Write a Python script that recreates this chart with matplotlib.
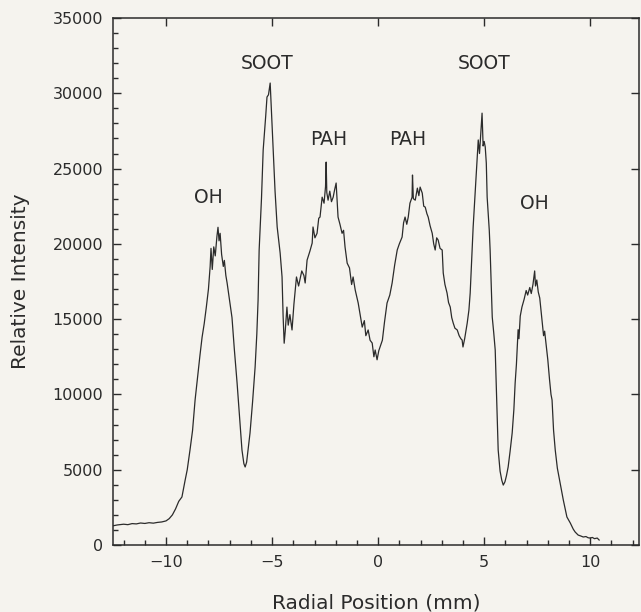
import matplotlib
matplotlib.use("Agg")
from matplotlib import pyplot as plt
from matplotlib import ticker

# radial profile (mm, counts)
RADIUS = [
    -12.55, -12.3, -12.0, -11.8, -11.6, -11.4, -11.2, -11.0, -10.8, -10.6,
    -10.4, -10.2, -10.0, -9.85, -9.7, -9.55, -9.4, -9.25, -9.1, -9.0,
    -8.87, -8.75, -8.63, -8.5, -8.4, -8.3, -8.2, -8.1, -8.0, -7.92,
    -7.88, -7.82, -7.75, -7.68, -7.6, -7.55, -7.5, -7.45, -7.38, -7.3,
    -7.25, -7.18, -7.12, -7.0, -6.89, -6.78, -6.65, -6.55, -6.42, -6.33,
    -6.27, -6.2, -6.1, -6.04, -5.92, -5.8, -5.72, -5.66, -5.61, -5.5,
    -5.42, -5.3, -5.24, -5.17, -5.09, -5.02, -4.95, -4.86, -4.76, -4.62,
    -4.53, -4.48, -4.43, -4.38, -4.3, -4.24, -4.16, -4.06, -3.97, -3.85,
    -3.75, -3.6, -3.5, -3.44, -3.35, -3.22, -3.11, -3.07, -2.98, -2.88,
    -2.8, -2.74, -2.64, -2.55, -2.48, -2.45, -2.42, -2.36, -2.28, -2.2,
    -2.12, -2.05, -1.98, -1.93, -1.89, -1.8, -1.7, -1.63, -1.56, -1.46,
    -1.35, -1.25, -1.18, -1.08, -0.94, -0.85, -0.75, -0.65, -0.58, -0.47,
    -0.38, -0.28, -0.2, -0.14, -0.05, 0.03, 0.09, 0.2, 0.3, 0.42,
    0.55, 0.66, 0.78, 0.9, 1.0, 1.13, 1.2, 1.27, 1.35, 1.42,
    1.5, 1.6, 1.62, 1.66, 1.75, 1.85, 1.92, 1.98, 2.08, 2.15,
    2.22, 2.3, 2.36, 2.45, 2.55, 2.62, 2.69, 2.76, 2.83, 2.92,
    3.02, 3.07, 3.15, 3.25, 3.32, 3.4, 3.47, 3.54, 3.62, 3.73,
    3.82, 3.9, 3.96, 4.0, 4.08, 4.2, 4.28, 4.34, 4.41, 4.48,
    4.58, 4.67, 4.72, 4.78, 4.84, 4.9, 4.95, 5.0, 5.05, 5.1,
    5.14, 5.24, 5.28, 5.33, 5.38, 5.45, 5.52, 5.57, 5.61, 5.66,
    5.75, 5.83, 5.9, 5.98, 6.05, 6.13, 6.22, 6.32, 6.4, 6.46,
    6.52, 6.56, 6.6, 6.64, 6.7, 6.78, 6.88, 6.98, 7.05, 7.15,
    7.22, 7.3, 7.38, 7.42, 7.48, 7.55, 7.62, 7.68, 7.75, 7.8,
    7.85, 7.92, 8.0, 8.08, 8.15, 8.2, 8.27, 8.35, 8.45, 8.58,
    8.73, 8.9, 9.06, 9.2, 9.29, 9.43, 9.55, 9.67, 9.8, 9.9,
    10.0, 10.1, 10.2, 10.33, 10.42,
]
INTENSITY = [
    1260, 1330, 1380, 1350, 1420, 1400, 1460, 1430, 1480, 1450,
    1500, 1530, 1600, 1750, 2000, 2400, 2900, 3190, 4300, 5000,
    6310, 7600, 9630, 11300, 12600, 13800, 14700, 15800, 17000, 18500,
    19700, 18300, 19800, 19200, 20500, 21100, 20200, 20700, 19300, 18500,
    18900, 17900, 17400, 16200, 15100, 13000, 10760, 8800, 6310, 5400,
    5180, 5500, 6700, 7440, 9500, 11820, 14000, 16270, 19590, 23000,
    26230, 28500, 29750, 29900, 30680, 28500, 26230, 23500, 21120, 19390,
    17800, 15200, 13400, 14200, 15800, 14600, 15300, 14280, 16000, 17800,
    17200, 18200, 17900, 17400, 18920, 19500, 20050, 21120, 20400, 20700,
    21700, 21780, 23100, 22700, 23800, 25430, 23400, 22900, 23500, 22800,
    23100, 23600, 24040, 22800, 21780, 21300, 20700, 20900, 19790, 18720,
    18400, 17300, 17800, 16930, 16070, 15300, 14470, 14900, 13900, 14280,
    13600, 13410, 12500, 12950, 12300, 12900, 13150, 13600, 14800, 16070,
    16600, 17400, 18600, 19590, 20000, 20450, 21400, 21780, 21300, 21780,
    22700, 23100, 24570, 23000, 22900, 23700, 23200, 23770, 23370, 22500,
    22440, 22000, 21780, 21200, 20700, 20000, 19590, 20400, 20250, 19700,
    19590, 18060, 17300, 16730, 16100, 15800, 15100, 14740, 14400, 14280,
    13900, 13700, 13610, 13150, 13700, 14740, 15600, 16730, 19000, 21120,
    23500, 25560, 26900, 26000, 27300, 28680, 26500, 26800, 26430, 25360,
    23100, 20900, 19590, 17300, 15140, 14100, 12950, 10500, 8500, 6310,
    4900, 4300, 3980, 4200, 4600, 5180, 6200, 7440, 9000, 10760,
    12000, 13150, 14300, 13700, 15200, 15800, 16300, 16900, 16600, 17100,
    16700, 17300, 18200, 17200, 17600, 16800, 16400, 15600, 14600, 13900,
    14200, 13300, 12300, 11000, 10000, 9630, 7640, 6310, 5100, 4120,
    2990, 1860, 1460, 1050, 860, 660, 600, 530, 560, 480,
    460, 500, 420, 460, 330,
]

PEAK_LABELS = ["OH", "SOOT", "PAH", "PAH", "SOOT", "OH"]
PEAK_X = [-8.0, -5.25, -2.35, 1.4, 5.0, 7.35]
PEAK_Y = [23050, 31950, 26950, 26950, 31950, 22700]

BG = "#f5f3ee"
INK = "#2b2b2b"

plt.rcParams["font.family"] = ["DejaVu Sans"]

fig = plt.figure(figsize=(6.41, 6.12), dpi=100, facecolor=BG)
ax = fig.add_axes([0.1763, 0.1095, 0.8206, 0.8611], facecolor=BG)

ax.plot(RADIUS, INTENSITY, color=INK, linewidth=0.9)

for label, x, y in zip(PEAK_LABELS, PEAK_X, PEAK_Y):
    ax.text(x, y, label, ha="center", va="center", fontsize=13.5, color=INK)

ax.set_xlim(-12.5, 12.3)
ax.set_ylim(0, 35000)

ax.xaxis.set_major_locator(ticker.MultipleLocator(5))
ax.xaxis.set_minor_locator(ticker.MultipleLocator(1))
ax.yaxis.set_major_locator(ticker.MultipleLocator(5000))
ax.yaxis.set_minor_locator(ticker.MultipleLocator(1000))

ax.tick_params(which="both", direction="in", colors=INK, labelsize=11.5,
               top=True, right=True, width=1.0)
ax.tick_params(which="major", length=6, pad=7)
ax.tick_params(which="minor", length=3.5, top=False, right=False)

for s in ax.spines.values():
    s.set_color(INK)
    s.set_linewidth(1.1)

ax.set_xlabel("Radial Position (mm)", fontsize=14.5, color=INK, labelpad=17)
ax.set_ylabel("Relative Intensity", fontsize=14.5, color=INK, labelpad=16)

fig.savefig("out.png", dpi=100, facecolor=BG)
